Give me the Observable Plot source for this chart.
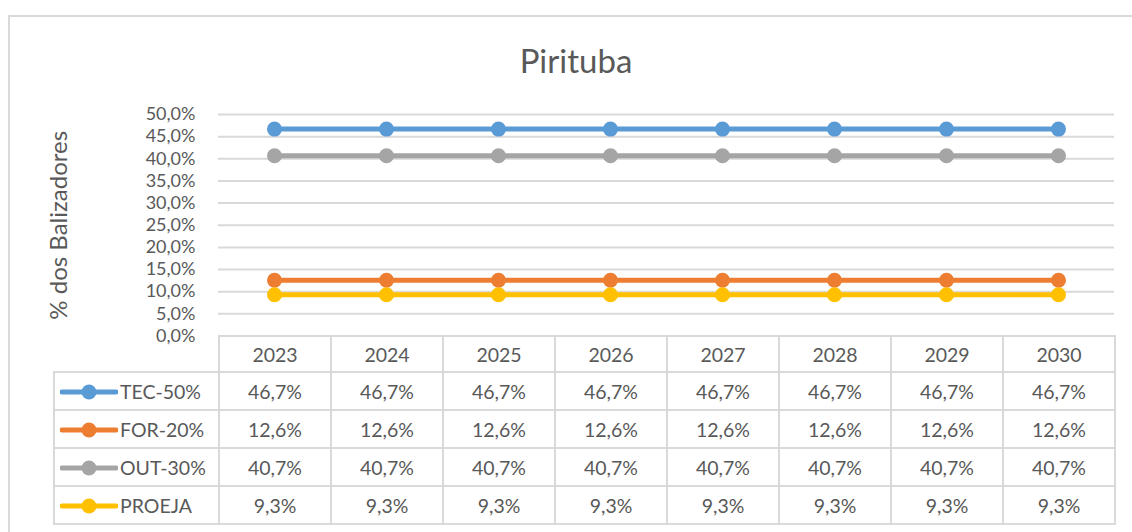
<!DOCTYPE html>
<html><head><meta charset="utf-8">
<script src="https://cdn.jsdelivr.net/npm/d3@7"></script>
<script src="https://cdn.jsdelivr.net/npm/@observablehq/plot@0.6"></script>
<style>
body{margin:0;background:#fff;font-family:Lato,"Open Sans",sans-serif;color:#595959}
#wrap{position:relative;width:1132px;height:532px;overflow:hidden;background:#fff}
#frame{position:absolute;left:8px;top:15px;width:1300px;height:700px;border:2px solid #d9d9d9;box-sizing:border-box}
#title{position:absolute;left:0;width:1152px;top:37px;text-align:center;font-size:33px;line-height:46px}
#chart{position:absolute;left:0;top:90px}
table{position:absolute;left:53px;top:335px;border-collapse:collapse;table-layout:fixed;font-size:19.5px;color:#595959}
td{border:2px solid #d9d9d9;text-align:center;padding:0;white-space:nowrap}
tr.h td{height:34px}
tr.r td{height:36px}
td.leg{text-align:left;padding-left:5px}
td.leg svg{vertical-align:middle;margin-right:2px;position:relative;top:-2px}
td.blank{border-top:none;border-left:none}
</style></head>
<body><div id="wrap"><div id="frame"></div><div id="title">Pirituba</div><div id="chart"></div><table id="tbl"></table></div>
<script>
const years = ["2023","2024","2025","2026","2027","2028","2029","2030"];
const seriesNames = ["TEC-50%","FOR-20%","OUT-30%","PROEJA"];
const tec50 = [46.7,46.7,46.7,46.7,46.7,46.7,46.7,46.7];
const for20 = [12.6,12.6,12.6,12.6,12.6,12.6,12.6,12.6];
const out30 = [40.7,40.7,40.7,40.7,40.7,40.7,40.7,40.7];
const proeja = [9.3,9.3,9.3,9.3,9.3,9.3,9.3,9.3];
const yTicks = [0,5,10,15,20,25,30,35,40,45,50];
const colors = ["#5B9BD5","#ED7D31","#A5A5A5","#FFC000"];
const yLabel = "% dos Balizadores";

const seriesValues = [tec50, for20, out30, proeja];
const data = [];
seriesNames.forEach((s, i) => years.forEach((y, j) => data.push({series: s, year: y, value: seriesValues[i][j]})));
const fmt = v => v.toFixed(1).replace(".", ",") + "%";

const chart = Plot.plot({
  width: 1132, height: 260,
  marginLeft: 218, marginRight: 18, marginTop: 24, marginBottom: 14.5,
  style: {fontFamily: "Lato", color: "#595959", background: "transparent", overflow: "visible"},
  x: {type: "point", domain: years, padding: 0.5, axis: null},
  y: {domain: [0, 50], axis: null},
  color: {domain: seriesNames, range: colors},
  marks: [
    Plot.gridY(yTicks.filter(d => d > 0), {stroke: "#d9d9d9", strokeOpacity: 1, strokeWidth: 2}),
    Plot.axisY(yTicks, {tickSize: 0, tickPadding: 23, tickFormat: fmt, fontSize: 18, fill: "#595959", label: null}),
    Plot.text([yLabel], {frameAnchor: "left", textAnchor: "middle", dx: -159, rotate: -90, fontSize: 24, fill: "#595959"}),
    Plot.line(data, {x: "year", y: "value", z: "series", stroke: "series", strokeWidth: 5}),
    Plot.dot(data, {x: "year", y: "value", fill: "series", r: 7.5})
  ]
});
document.getElementById("chart").appendChild(chart);

// data table
const tbl = document.getElementById("tbl");
let html = '<colgroup><col style="width:165px">' + years.map(() => '<col style="width:112px">').join("") + '</colgroup>';
html += '<tr class="h"><td class="blank"></td>' + years.map(y => `<td>${y}</td>`).join("") + '</tr>';
seriesNames.forEach((s, i) => {
  const key = `<svg width="58" height="16"><line x1="2" x2="56" y1="8" y2="8" stroke="${colors[i]}" stroke-width="5" stroke-linecap="round"/><circle cx="29" cy="8" r="7.5" fill="${colors[i]}"/></svg>`;
  html += `<tr class="r"><td class="leg">${key}${s}</td>` + seriesValues[i].map(v => `<td>${fmt(v)}</td>`).join("") + '</tr>';
});
tbl.innerHTML = html;
</script>
</body></html>
